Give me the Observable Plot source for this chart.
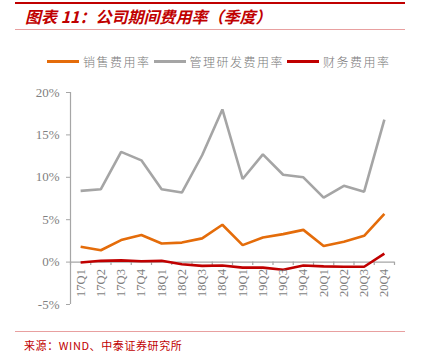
<!DOCTYPE html>
<html><head><meta charset="utf-8">
<script src="https://cdn.jsdelivr.net/npm/d3@7"></script>
<script src="https://cdn.jsdelivr.net/npm/@observablehq/plot@0.6"></script>
<style>
html,body{margin:0;padding:0;background:#fff;}
#wrap{position:relative;width:423px;height:359px;overflow:hidden;background:#fff;}
#head{position:relative;height:72px;}
.abs{position:absolute;}
#title{left:25px;top:6px;font-family:"Noto Sans CJK SC",sans-serif;font-weight:bold;font-style:italic;font-size:16px;line-height:20px;color:#c00000;white-space:nowrap;}
#legend{left:47px;top:53px;height:16px;display:flex;align-items:center;font-family:"Noto Sans CJK SC",sans-serif;font-weight:300;font-size:12px;color:#7a7a7a;letter-spacing:1.5px;white-space:nowrap;}
.sw{display:inline-block;width:32px;height:3px;margin-right:4px;}
.lt{margin-right:3px;}
#foot{position:relative;height:34px;}
#src{left:24px;top:12px;font-family:"Noto Sans CJK SC",sans-serif;font-size:11px;color:#c00000;white-space:nowrap;letter-spacing:0.6px;}
</style></head>
<body>
<div id="wrap">
  <div id="head">
    <div class="abs" style="left:15px;top:2px;width:390px;height:2px;background:#c00000"></div>
    <div id="title" class="abs">图表 11：公司期间费用率（季度）</div>
    <div class="abs" style="left:15px;top:29px;width:390px;height:1px;background:#e8a0a0"></div>
    <div id="legend" class="abs"></div>
  </div>
  <div id="chart"></div>
  <div id="foot">
    <div class="abs" style="left:15px;top:6px;width:390px;height:1px;background:#e8a0a0"></div>
    <div id="src" class="abs">来源：WIND、中泰证券研究所</div>
  </div>
</div>
<script>
const categories = ["17Q1","17Q2","17Q3","17Q4","18Q1","18Q2","18Q3","18Q4","19Q1","19Q2","19Q3","19Q4","20Q1","20Q2","20Q3","20Q4"];
const seriesNames = ["销售费用率","管理研发费用率","财务费用率"];
const seriesColors = ["#e46c0a","#a5a5a5","#c00000"];
const sales   = [1.8, 1.4, 2.6, 3.2, 2.2, 2.3, 2.8, 4.4, 2.0, 2.9, 3.3, 3.8, 1.9, 2.4, 3.1, 5.7];
const admin   = [8.4, 8.6, 13.0, 12.0, 8.6, 8.2, 12.6, 18.0, 9.8, 12.7, 10.3, 10.0, 7.6, 9.0, 8.3, 16.8];
const finance = [-0.05, 0.15, 0.2, 0.1, 0.15, -0.25, -0.45, -0.4, -0.65, -0.65, -0.9, -0.4, -0.5, -0.55, -0.55, 1.0];
const yTicks = [-5, 0, 5, 10, 15, 20];

// legend
const lg = document.getElementById("legend");
seriesNames.forEach((n, k) => {
  const s = document.createElement("span"); s.className = "sw"; s.style.background = seriesColors[k]; lg.appendChild(s);
  const t = document.createElement("span"); t.className = "lt"; t.textContent = n; lg.appendChild(t);
});

const values = [sales, admin, finance];
const data = seriesNames.flatMap((n, k) => categories.map((c, i) => ({series: n, i, v: values[k][i]})));
const bounds = d3.range(categories.length + 1).map(i => i - 0.5);
const axisColor = "#a6a6a6";
const textColor = "#7f7f7f";
const serif = "'Liberation Serif','Times New Roman',serif";

const chart = Plot.plot({
  width: 423,
  height: 253,
  marginLeft: 70,
  marginRight: 29,
  marginTop: 20,
  marginBottom: 21,
  style: {background: "transparent", fontFamily: serif},
  x: {type: "linear", domain: [-0.5, categories.length - 0.5], axis: null},
  y: {domain: [-5, 20], axis: null},
  color: {domain: seriesNames, range: seriesColors},
  marks: [
    Plot.axisY({ticks: yTicks, tickSize: 4, tickPadding: 7, label: null, tickFormat: d => d + "%", stroke: axisColor, fill: textColor, fontSize: 13, fontFamily: serif}),
    Plot.ruleX([-0.5], {y1: -5, y2: 20, stroke: axisColor, strokeWidth: 1.2}),
    Plot.ruleY([0], {stroke: axisColor, strokeWidth: 1.2}),
    Plot.ruleX(bounds, {x: d => d, y1: 0, y2: -0.4, stroke: axisColor, strokeWidth: 1.2}),
    Plot.line(data, {x: "i", y: "v", stroke: "series", z: "series", strokeWidth: 2.6, strokeLinejoin: "miter", strokeLinecap: "butt"}),
    Plot.text(categories, {x: (d, i) => i, y: () => 0, text: d => d, rotate: -90, textAnchor: "end", dy: 7, fill: textColor, fontSize: 12.5, fontFamily: serif})
  ]
});
document.getElementById("chart").appendChild(chart);
</script>
</body></html>
